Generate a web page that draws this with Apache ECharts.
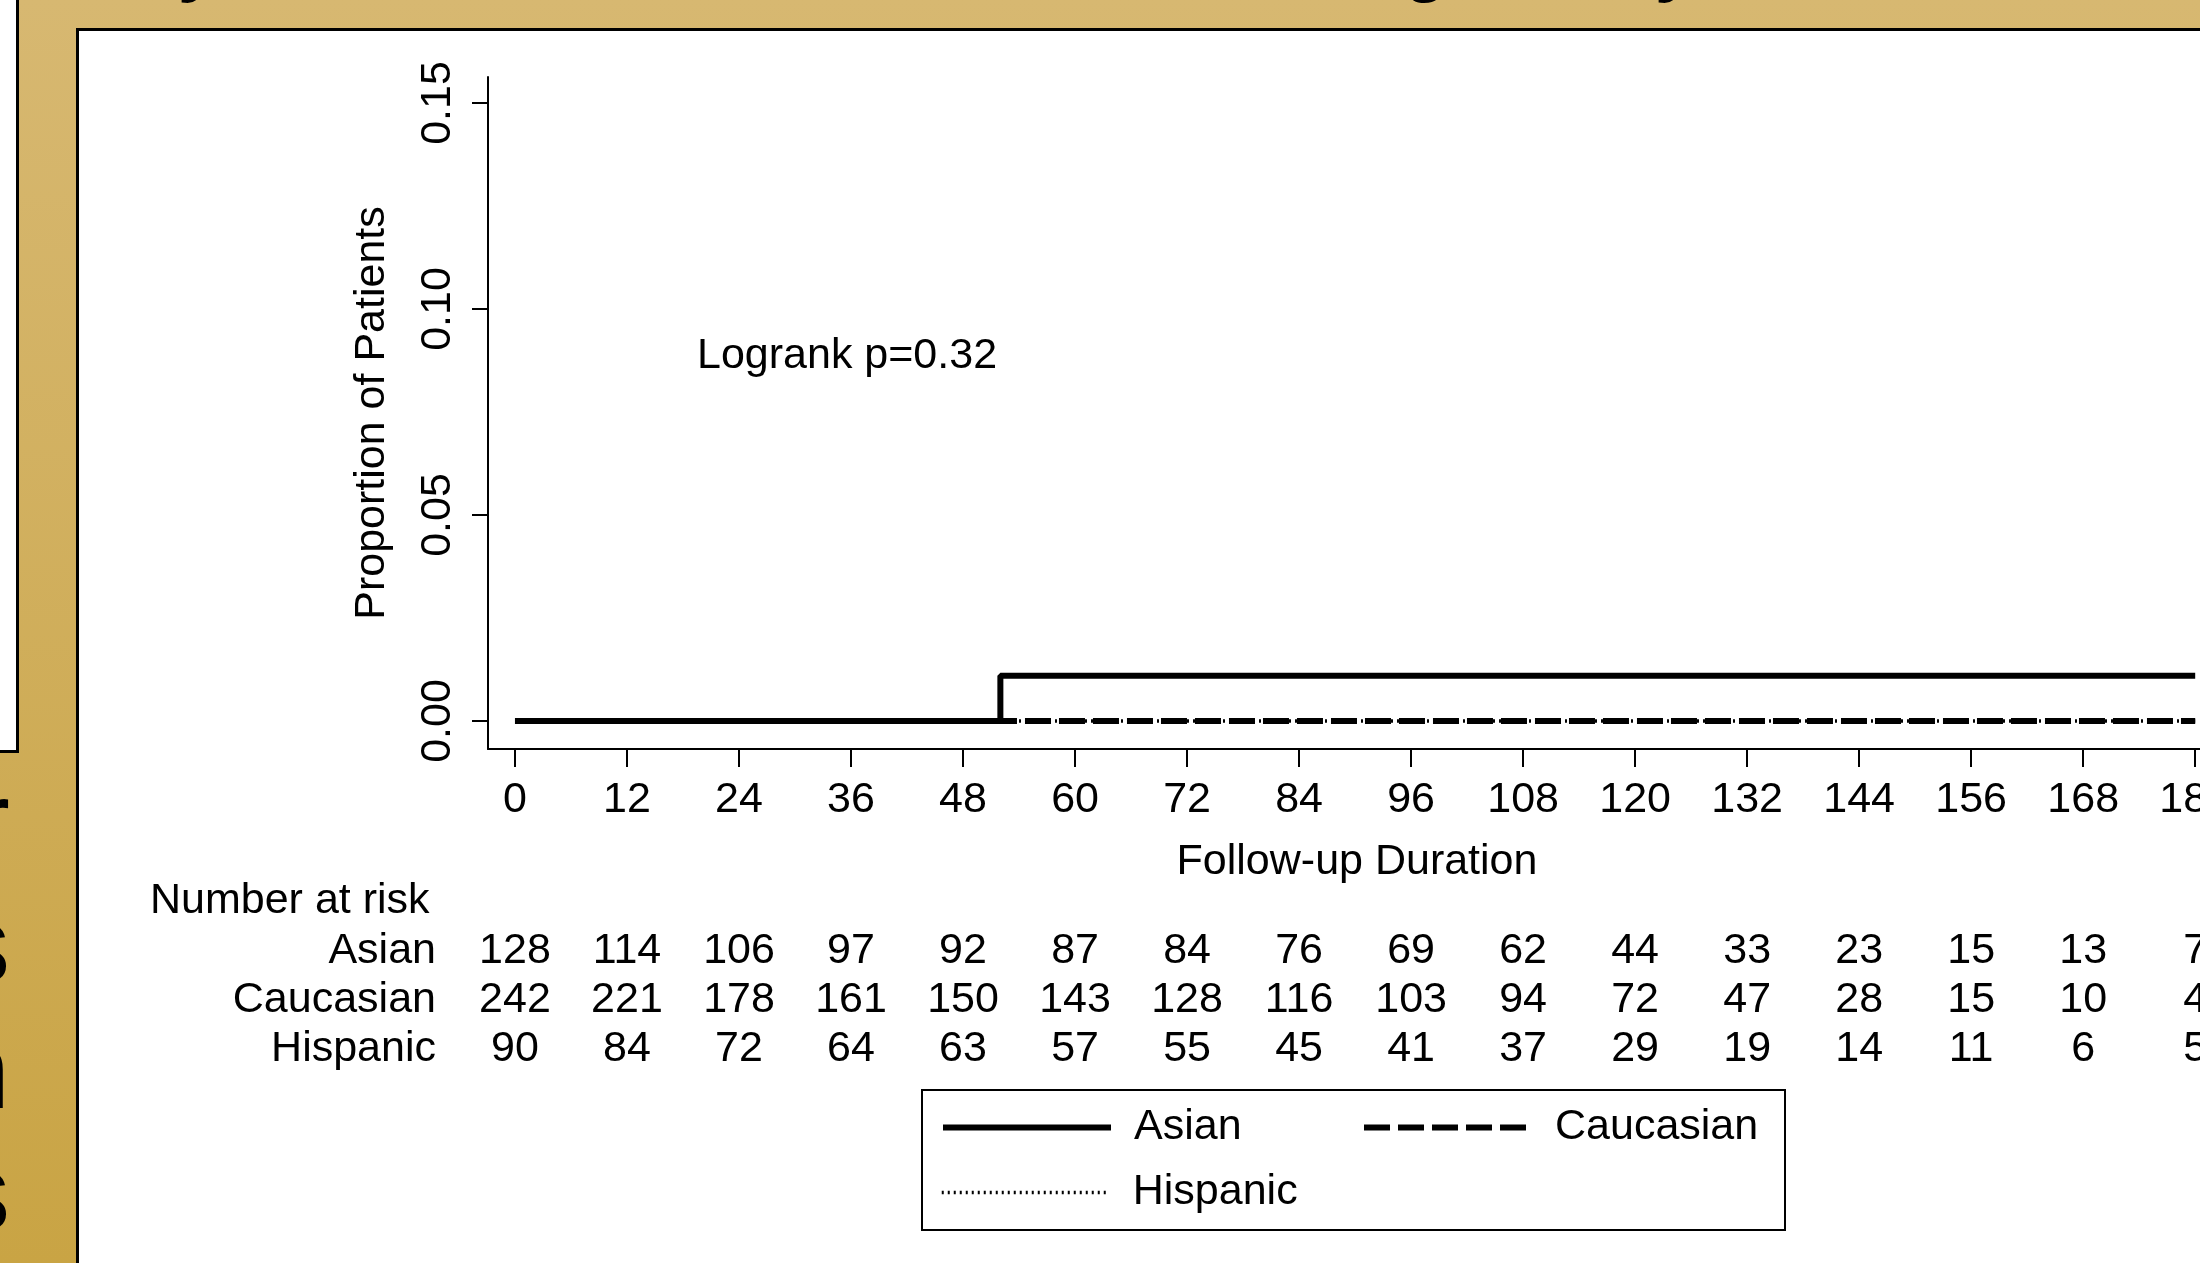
<!DOCTYPE html>
<html>
<head>
<meta charset="utf-8">
<script src="https://cdn.jsdelivr.net/npm/echarts@6/dist/echarts.min.js"></script>
<style>
  html, body { margin: 0; padding: 0; width: 2200px; height: 1263px; overflow: hidden; }
  body { position: relative; background: linear-gradient(to bottom, #d7b871 0%, #c9a444 100%); }
  #sidebox { position: absolute; left: -10px; top: -10px; width: 26px; height: 760px; background: #fff;
             border-right: 3px solid #000; border-bottom: 3px solid #000; }
  #panel { position: absolute; left: 76px; top: 28px; width: 2300px; height: 1400px; background: #fff;
           border-left: 3px solid #000; border-top: 3px solid #000; }
  /* the plot runs on past the right edge of the window */
  #chart { position: absolute; left: 0; top: 0; width: 2320px; height: 1263px; }
</style>
</head>
<body>
<div id="sidebox"></div>
<div id="panel"></div>
<div id="chart"></div>
<script>
// Follow-up months shown on the time axis
const months = [0, 12, 24, 36, 48, 60, 72, 84, 96, 108, 120, 132, 144, 156, 168, 180];
// Proportion axis ticks
const yTicks = [0, 0.05, 0.10, 0.15];

// Cumulative incidence step curves (time in months, proportion)
const asianTimes = [0, 52, 180];
const asianValues = [0, 0.011, 0.011];
const caucasianTimes = [0, 180];
const caucasianValues = [0, 0];
const hispanicTimes = [0, 180];
const hispanicValues = [0, 0];

// Number at risk at each axis tick
const atRiskAsian = [128, 114, 106, 97, 92, 87, 84, 76, 69, 62, 44, 33, 23, 15, 13, 7];
const atRiskCaucasian = [242, 221, 178, 161, 150, 143, 128, 116, 103, 94, 72, 47, 28, 15, 10, 4];
const atRiskHispanic = [90, 84, 72, 64, 63, 57, 55, 45, 41, 37, 29, 19, 14, 11, 6, 5];

const groups = ['Asian', 'Caucasian', 'Hispanic'];

const X_MIN = -2.89, X_MAX = 183.3;
const Y_MIN = -0.0068, Y_MAX = 0.1563;

const FONT = '"Liberation Sans", Arial, sans-serif';
const baseText = { color: '#000', fontFamily: FONT, fontSize: 43 };

const pairs = (xs, ys) => xs.map((x, i) => [x, ys[i]]);

function riskAxis(counts, offset) {
  return {
    type: 'value', gridIndex: 0, position: 'bottom', offset: offset,
    min: X_MIN, max: X_MAX,
    axisLine: { show: false }, axisTick: { show: false }, splitLine: { show: false },
    axisLabel: {
      ...baseText, margin: 30, customValues: months,
      formatter: v => {
        const i = Math.round(v / 12);
        return counts[i] !== undefined ? String(counts[i]) : '';
      }
    }
  };
}

// one legend block per group so each key sits at its own spot in the box
function legendFor(name, left, top, lineWidth) {
  return {
    data: [name], left: left, top: top, padding: 0,
    itemWidth: 168, itemHeight: 2, selectedMode: false,
    itemStyle: { opacity: 0 },
    lineStyle: { width: lineWidth },
    textStyle: { ...baseText, padding: [0, 0, 0, 18] }
  };
}

function txt(x, y, text, extra) {
  return {
    type: 'text', x: x, y: y, silent: true,
    style: Object.assign({ text: text, font: '43px ' + FONT, fill: '#000', align: 'left', verticalAlign: 'middle' }, extra || {})
  };
}

const chart = echarts.init(document.getElementById('chart'), null, { renderer: 'canvas' });

chart.setOption({
  animation: false,
  backgroundColor: 'transparent',
  grid: { left: 488, top: 77, width: 1738, height: 672, containLabel: false },
  xAxis: [
    {
      type: 'value', min: X_MIN, max: X_MAX, position: 'bottom',
      axisLine: { show: true, onZero: false, lineStyle: { color: '#000', width: 2 } },
      axisTick: { show: true, customValues: months, length: 18, lineStyle: { color: '#000', width: 2 } },
      axisLabel: { ...baseText, margin: 30, customValues: months, formatter: v => String(Math.round(v)) },
      splitLine: { show: false },
      name: 'Follow-up Duration', nameLocation: 'middle', nameGap: 92, nameTextStyle: { ...baseText }
    },
    riskAxis(atRiskAsian, 151),
    riskAxis(atRiskCaucasian, 200),
    riskAxis(atRiskHispanic, 249)
  ],
  yAxis: {
    type: 'value', min: Y_MIN, max: Y_MAX,
    axisLine: { show: true, onZero: false, lineStyle: { color: '#000', width: 2 } },
    axisTick: { show: true, customValues: yTicks, length: 16, lineStyle: { color: '#000', width: 2 } },
    axisLabel: { ...baseText, rotate: 90, margin: 28, customValues: yTicks, formatter: v => v.toFixed(2) },
    splitLine: { show: false },
    name: 'Proportion of Patients', nameLocation: 'middle', nameGap: 94, nameTextStyle: { ...baseText }
  },
  legend: [
    legendFor('Asian', 940, 1106, 6),
    legendFor('Caucasian', 1361, 1106, 6),
    legendFor('Hispanic', 940, 1171, 3.5)
  ],
  series: [
    {
      name: groups[0], type: 'line', step: 'end', symbol: 'none', silent: true, z: 5,
      data: pairs(asianTimes, asianValues),
      itemStyle: { color: '#000' },
      lineStyle: { color: '#000', width: 6, type: 'solid' }
    },
    {
      name: groups[1], type: 'line', step: 'end', symbol: 'none', silent: true, z: 4,
      data: pairs(caucasianTimes, caucasianValues),
      itemStyle: { color: '#000' },
      lineStyle: { color: '#000', width: 6, type: [26, 8] }
    },
    {
      name: groups[2], type: 'line', step: 'end', symbol: 'none', silent: true, z: 3,
      data: pairs(hispanicTimes, hispanicValues),
      itemStyle: { color: '#000' },
      lineStyle: { color: '#000', width: 3.5, type: [2, 4] }
    }
  ],
  graphic: [
    txt(697, 356, 'Logrank p=0.32'),
    txt(150, 901, 'Number at risk'),
    txt(436, 951, groups[0], { align: 'right' }),
    txt(436, 1000, groups[1], { align: 'right' }),
    txt(436, 1049, groups[2], { align: 'right' }),
    {
      type: 'rect', silent: true,
      shape: { x: 922, y: 1090, width: 863, height: 140 },
      style: { fill: 'none', stroke: '#000', lineWidth: 2 }
    },
    // slide title letters running above the panel
    txt(178, -31, 'y', { font: 'bold 70px ' + FONT }),
    txt(1404, -31, 'g', { font: 'bold 70px ' + FONT }),
    txt(1655, -31, 'y', { font: 'bold 70px ' + FONT }),
    // ends of the side text lines
    txt(10, 828, 'r', { font: '110px ' + FONT, align: 'right' }),
    txt(10, 952, 's', { font: '110px ' + FONT, align: 'right' }),
    txt(10, 1078, 'n', { font: '110px ' + FONT, align: 'right' }),
    txt(10, 1200, 's', { font: '110px ' + FONT, align: 'right' })
  ]
});
</script>
</body>
</html>
